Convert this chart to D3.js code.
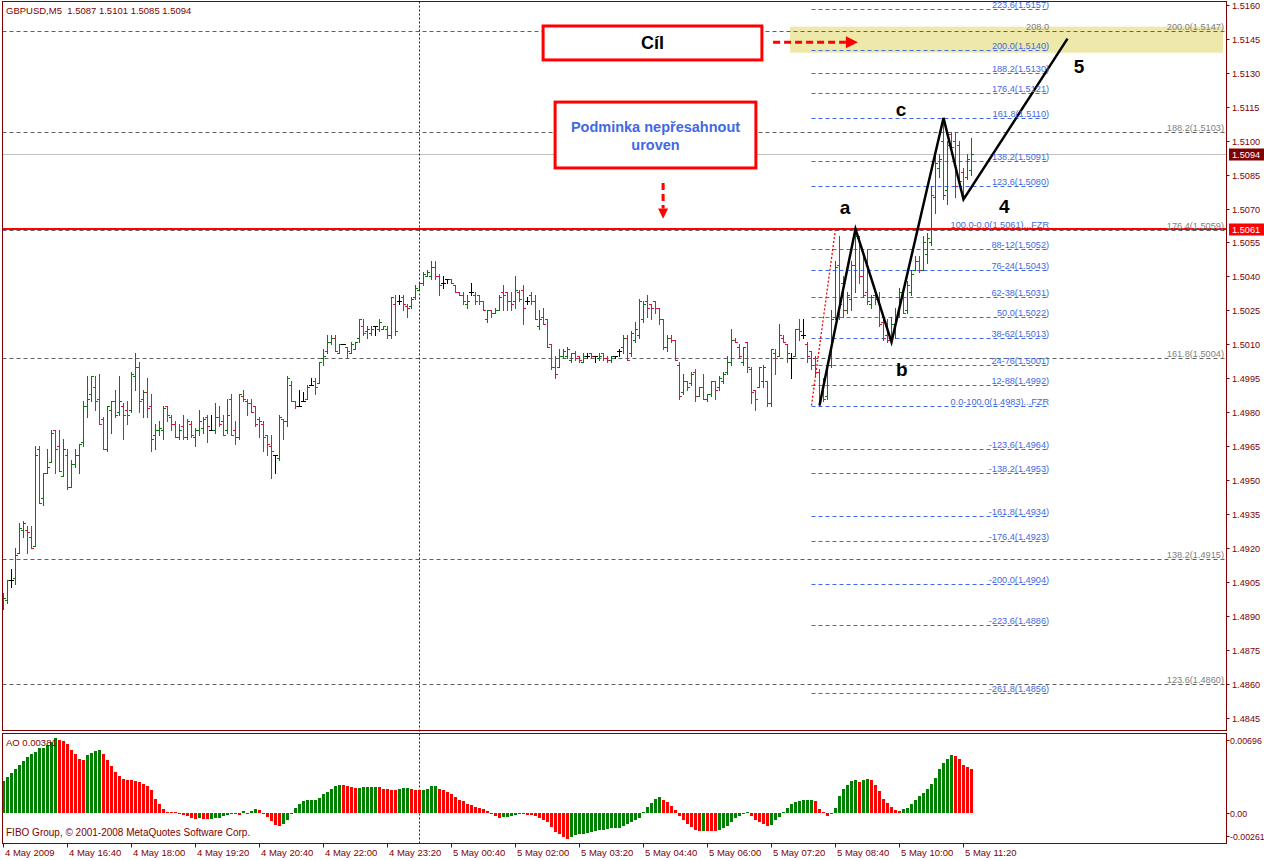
<!DOCTYPE html>
<html><head><meta charset="utf-8">
<script src="https://cdn.jsdelivr.net/npm/d3@7"></script>
<style>
body{margin:0;background:#fff}
svg{display:block}
text{font-family:"Liberation Sans",Arial,sans-serif}
</style>
</head><body>
<svg id="c" width="1264" height="860"></svg>
<script>
// ---------- DATA ----------
const opens=[
1.4894,1.4897,1.4906,1.4907,1.4918,1.4928,1.4928,1.4925,1.4921,1.4964,
1.4942,1.4953,1.4958,1.4972,1.4965,1.4952,1.4961,1.4947,1.4957,1.4961,
1.4967,1.4983,1.4988,1.4991,1.4986,1.4977,1.4964,1.4981,1.4985,1.4980,
1.4983,1.4981,1.4981,1.4996,1.5000,1.4986,1.4989,1.4983,1.4970,1.4972,
1.4972,1.4983,1.4978,1.4975,1.4969,1.4974,1.4969,1.4975,1.4969,1.4972,
1.4973,1.4978,1.4972,1.4972,1.4978,1.4976,1.4972,1.4986,1.4972,1.4969,
1.4987,1.4985,1.4984,1.4983,1.4977,1.4975,1.4970,1.4965,1.4961,1.4960,
1.4977,1.4976,1.4992,1.4985,1.4983,1.4985,1.4986,1.4992,1.4994,1.4993,
1.5004,1.5007,1.5011,1.5013,1.5006,1.5010,1.5009,1.5006,1.5008,1.5013,
1.5018,1.5016,1.5015,1.5018,1.5017,1.5017,1.5017,1.5014,1.5028,1.5029,
1.5031,1.5027,1.5027,1.5031,1.5034,1.5037,1.5040,1.5040,1.5044,1.5040,
1.5037,1.5039,1.5039,1.5036,1.5033,1.5032,1.5028,1.5033,1.5032,1.5032,
1.5029,1.5021,1.5025,1.5024,1.5025,1.5033,1.5033,1.5029,1.5029,1.5033,
1.5034,1.5029,1.5032,1.5029,1.5018,1.5022,1.5021,1.5010,1.5000,1.5000,
1.5005,1.5005,1.5003,1.5006,1.5005,1.5002,1.5005,1.5006,1.5005,1.5004,
1.5006,1.5004,1.5003,1.5005,1.5007,1.5009,1.5013,1.5006,1.5012,1.5014,
1.5021,1.5029,1.5028,1.5029,1.5026,1.5021,1.5009,1.5013,1.5012,1.5001,
1.4989,1.4994,1.4993,1.4998,1.4987,1.4991,1.4986,1.4988,1.4994,1.4991,
1.4994,1.4998,1.5002,1.5012,1.5009,1.5002,1.5011,1.4999,1.4990,1.4991,
1.4994,1.4994,1.4984,1.5006,1.5005,1.5013,1.5010,1.5004,1.5005,1.5017,
1.5014,1.5010,1.5007,1.5004,1.4998,1.4988,1.4987,1.5001,1.5022,1.5045,
1.5037,1.5025,1.5030,1.5045,1.5057,1.5040,1.5033,1.5028,1.5032,1.5031,
1.5020,1.5014,1.5012,1.5019,1.5022,1.5032,1.5025,1.5033,1.5043,1.5047,
1.5043,1.5050,1.5055,1.5075,1.5088,1.5100,1.5078,1.5103,1.5100,1.5098,
1.5086,1.5084,1.5087];
const highs=[
1.4900,1.4906,1.4911,1.4920,1.4931,1.4932,1.4930,1.4930,1.4965,1.4965,
1.4953,1.4964,1.4972,1.4972,1.4972,1.4968,1.4964,1.4959,1.4964,1.4966,
1.4985,1.4996,1.4996,1.4996,1.4997,1.4978,1.4983,1.4985,1.4990,1.4996,
1.4984,1.4985,1.4998,1.5006,1.5002,1.4990,1.4995,1.4988,1.4975,1.4976,
1.4983,1.4983,1.4979,1.4976,1.4975,1.4979,1.4977,1.4976,1.4973,1.4981,
1.4978,1.4979,1.4979,1.4984,1.4983,1.4979,1.4986,1.4988,1.4976,1.4988,
1.4990,1.4986,1.4986,1.4983,1.4978,1.4976,1.4970,1.4970,1.4961,1.4979,
1.4977,1.4996,1.4994,1.4985,1.4990,1.4989,1.4992,1.4995,1.4995,1.5002,
1.5008,1.5014,1.5014,1.5014,1.5010,1.5010,1.5009,1.5011,1.5011,1.5021,
1.5021,1.5018,1.5018,1.5018,1.5021,1.5018,1.5018,1.5031,1.5032,1.5032,
1.5032,1.5028,1.5031,1.5036,1.5037,1.5042,1.5043,1.5047,1.5047,1.5041,
1.5040,1.5039,1.5039,1.5036,1.5033,1.5033,1.5032,1.5037,1.5033,1.5032,
1.5029,1.5025,1.5025,1.5026,1.5032,1.5036,1.5033,1.5033,1.5040,1.5034,
1.5036,1.5031,1.5033,1.5032,1.5025,1.5026,1.5021,1.5010,1.5005,1.5008,
1.5008,1.5009,1.5006,1.5007,1.5005,1.5006,1.5006,1.5006,1.5005,1.5006,
1.5006,1.5005,1.5005,1.5005,1.5008,1.5014,1.5014,1.5016,1.5020,1.5030,
1.5029,1.5032,1.5028,1.5029,1.5026,1.5021,1.5014,1.5014,1.5012,1.5002,
1.4997,1.4994,1.4998,1.4999,1.4991,1.4997,1.4988,1.4994,1.4994,1.4996,
1.4998,1.5005,1.5017,1.5013,1.5010,1.5009,1.5011,1.5000,1.4990,1.5000,
1.5001,1.4994,1.5008,1.5008,1.5019,1.5014,1.5010,1.5006,1.5017,1.5021,
1.5021,1.5011,1.5007,1.5005,1.4999,1.4995,1.5002,1.5025,1.5047,1.5058,
1.5040,1.5033,1.5047,1.5060,1.5058,1.5050,1.5052,1.5032,1.5034,1.5033,
1.5022,1.5021,1.5022,1.5026,1.5035,1.5033,1.5038,1.5043,1.5049,1.5049,
1.5058,1.5059,1.5080,1.5096,1.5094,1.5110,1.5100,1.5104,1.5104,1.5100,
1.5088,1.5094,1.5101];
const lows=[
1.4893,1.4896,1.4903,1.4904,1.4918,1.4925,1.4918,1.4920,1.4921,1.4940,
1.4939,1.4953,1.4958,1.4953,1.4954,1.4952,1.4946,1.4947,1.4956,1.4953,
1.4965,1.4978,1.4985,1.4981,1.4975,1.4964,1.4963,1.4971,1.4978,1.4979,
1.4968,1.4975,1.4980,1.4990,1.4980,1.4978,1.4978,1.4963,1.4964,1.4970,
1.4968,1.4976,1.4972,1.4969,1.4968,1.4968,1.4968,1.4969,1.4965,1.4970,
1.4971,1.4967,1.4972,1.4971,1.4974,1.4970,1.4971,1.4970,1.4966,1.4968,
1.4985,1.4979,1.4980,1.4974,1.4969,1.4963,1.4961,1.4951,1.4953,1.4959,
1.4968,1.4974,1.4985,1.4982,1.4983,1.4985,1.4986,1.4992,1.4988,1.4993,
1.5001,1.5006,1.5010,1.5007,1.5006,1.5010,1.5004,1.5006,1.5008,1.5011,
1.5014,1.5013,1.5014,1.5014,1.5016,1.5017,1.5013,1.5013,1.5014,1.5028,
1.5025,1.5022,1.5026,1.5030,1.5034,1.5036,1.5040,1.5039,1.5039,1.5032,
1.5035,1.5037,1.5037,1.5033,1.5032,1.5028,1.5026,1.5032,1.5028,1.5028,
1.5025,1.5020,1.5022,1.5024,1.5025,1.5025,1.5025,1.5025,1.5026,1.5029,
1.5019,1.5028,1.5028,1.5021,1.5017,1.5019,1.5009,1.4999,1.4995,1.5000,
1.5004,1.5004,1.5002,1.5003,1.5002,1.5002,1.5004,1.5004,1.5002,1.5003,
1.5003,1.5002,1.5002,1.5004,1.5005,1.5006,1.5003,1.5005,1.5011,1.5013,
1.5020,1.5022,1.5021,1.5024,1.5019,1.5008,1.5007,1.5011,1.5003,1.4986,
1.4988,1.4990,1.4992,1.4985,1.4987,1.4986,1.4985,1.4987,1.4986,1.4990,
1.4993,1.4997,1.5001,1.5011,1.5004,1.5001,1.4998,1.4984,1.4981,1.4991,
1.4991,1.4983,1.4983,1.4997,1.5005,1.5011,1.5002,1.4995,1.5005,1.5012,
1.5013,1.5002,1.4999,1.4996,1.4983,1.4985,1.4986,1.5000,1.5021,1.5021,
1.5022,1.5024,1.5025,1.5033,1.5037,1.5031,1.5028,1.5026,1.5028,1.5018,
1.5012,1.5011,1.5011,1.5013,1.5022,1.5024,1.5024,1.5032,1.5043,1.5042,
1.5043,1.5046,1.5054,1.5068,1.5084,1.5074,1.5072,1.5096,1.5075,1.5080,
1.5074,1.5083,1.5085];
const closes=[
1.4898,1.4906,1.4906,1.4917,1.4929,1.4931,1.4927,1.4920,1.4961,1.4940,
1.4953,1.4956,1.4971,1.4964,1.4954,1.4964,1.4947,1.4957,1.4961,1.4966,
1.4983,1.4986,1.4996,1.4985,1.4975,1.4964,1.4983,1.4985,1.4979,1.4985,
1.4979,1.4979,1.4997,1.5000,1.4985,1.4989,1.4982,1.4968,1.4972,1.4973,
1.4982,1.4979,1.4975,1.4969,1.4972,1.4969,1.4976,1.4970,1.4972,1.4976,
1.4977,1.4974,1.4972,1.4978,1.4975,1.4970,1.4979,1.4970,1.4969,1.4988,
1.4986,1.4984,1.4980,1.4975,1.4976,1.4969,1.4966,1.4963,1.4961,1.4978,
1.4976,1.4995,1.4985,1.4983,1.4983,1.4985,1.4991,1.4992,1.4991,1.5002,
1.5005,1.5011,1.5013,1.5007,1.5010,1.5010,1.5007,1.5010,1.5011,1.5021,
1.5015,1.5017,1.5017,1.5018,1.5020,1.5018,1.5014,1.5031,1.5016,1.5029,
1.5028,1.5026,1.5030,1.5035,1.5037,1.5041,1.5042,1.5044,1.5040,1.5036,
1.5037,1.5039,1.5037,1.5033,1.5032,1.5029,1.5029,1.5033,1.5029,1.5029,
1.5025,1.5025,1.5024,1.5025,1.5031,1.5032,1.5029,1.5028,1.5034,1.5030,
1.5026,1.5029,1.5029,1.5021,1.5021,1.5019,1.5009,1.5000,1.4997,1.5005,
1.5007,1.5008,1.5006,1.5004,1.5003,1.5005,1.5005,1.5005,1.5005,1.5005,
1.5004,1.5003,1.5005,1.5005,1.5007,1.5013,1.5003,1.5015,1.5017,1.5029,
1.5028,1.5026,1.5026,1.5026,1.5021,1.5009,1.5013,1.5012,1.5003,1.4987,
1.4994,1.4991,1.4997,1.4987,1.4991,1.4986,1.4988,1.4994,1.4990,1.4995,
1.4997,1.5002,1.5012,1.5011,1.5005,1.5009,1.5000,1.4989,1.4986,1.5000,
1.5000,1.4984,1.5008,1.5004,1.5014,1.5011,1.5006,1.5004,1.5017,1.5016,
1.5014,1.5005,1.5001,1.4998,1.4987,1.4986,1.5001,1.5021,1.5044,1.5028,
1.5025,1.5032,1.5045,1.5058,1.5040,1.5032,1.5029,1.5031,1.5030,1.5019,
1.5013,1.5012,1.5019,1.5022,1.5033,1.5024,1.5036,1.5041,1.5047,1.5043,
1.5055,1.5057,1.5076,1.5090,1.5092,1.5076,1.5098,1.5097,1.5080,1.5082,
1.5076,1.5092,1.5094];
// Awesome Oscillator, in units of 0.0001
const aoValues=[
27.6,31.3,34.8,38.0,41.8,45.5,48.7,51.0,53.4,56.3,
56.6,59.2,61.5,65.0,63.2,62.9,59.7,54.5,51.0,46.7,
46.4,50.5,52.2,53.9,55.1,51.6,45.8,40.6,35.4,32.5,
29.9,29.0,28.4,28.1,26.7,25.5,23.8,19.7,12.5,7.5,
3.5,1.2,0.9,0.6,-1.2,-2.0,-2.9,-4.1,-5.2,-4.6,
-5.2,-5.5,-5.4,-4.6,-4.4,-2.9,-1.7,-0.9,-1.2,-1.7,
1.5,0.3,1.5,3.2,3.0,-0.6,-3.5,-7.0,-10.7,-10.9,
-9.3,-6.4,-0.6,4.6,7.5,10.2,11.0,11.2,11.6,13.3,
16.2,18.6,21.2,23.2,24.7,24.4,23.8,22.6,21.5,22.0,
22.3,22.5,22.6,22.9,22.3,21.2,20.6,20.4,20.3,20.9,
21.5,21.8,20.6,20.3,20.0,20.3,21.2,23.2,23.5,21.2,
19.7,18.0,16.2,13.9,11.6,10.4,8.1,7.0,5.2,4.4,
3.5,1.7,-1.2,-2.3,-4.1,-3.8,-3.5,-2.3,-1.5,-0.6,
-1.2,-1.7,-2.0,-2.6,-4.1,-5.8,-7.5,-12.2,-16.5,-18.6,
-20.9,-22.3,-20.9,-19.1,-18.6,-18.3,-17.4,-16.5,-16.0,-15.1,
-14.5,-13.9,-13.3,-13.2,-12.8,-11.0,-9.3,-7.5,-5.8,-4.1,
1.2,5.2,8.7,12.2,13.9,11.6,9.3,6.4,2.9,-2.3,
-5.8,-9.3,-12.2,-14.5,-15.7,-15.4,-15.7,-15.8,-16.0,-14.5,
-13.3,-11.3,-8.1,-4.1,-2.3,0.3,0.6,-2.3,-6.4,-8.1,
-9.3,-11.0,-10.4,-6.4,-3.5,0.6,4.6,7.5,9.3,10.4,
10.9,11.0,11.2,10.4,3.5,0.6,-2.3,-0.6,4.6,14.5,
20.6,24.4,27.6,28.4,26.7,28.5,29.9,28.4,24.1,18.9,
12.5,8.7,5.2,2.3,1.7,3.2,4.1,7.5,11.6,14.5,
17.4,20.9,25.5,30.2,38.3,43.5,47.3,50.2,49.6,47.0,
41.8,40.0,38.1];

const priceTicks=[1.5160,1.5145,1.5130,1.5115,1.5100,1.5085,1.5070,1.5055,1.5040,1.5025,1.5010,
  1.4995,1.4980,1.4965,1.4950,1.4935,1.4920,1.4905,1.4890,1.4875,1.4860,1.4845];
const timeTickIdx=[0,16,32,48,64,80,96,112,128,144,160,176,192,208,224,240];
const timeTickLabels=["4 May 2009","4 May 16:40","4 May 18:00","4 May 19:20","4 May 20:40","4 May 22:00",
  "4 May 23:20","5 May 00:40","5 May 02:00","5 May 03:20","5 May 04:40","5 May 06:00","5 May 07:20",
  "5 May 08:40","5 May 10:00","5 May 11:20"];
const aoTicks=[0.00696,0.00,-0.00261];
const aoTickLabels=["0.00696","0.00","-0.00261"];

// Fibo expansion (blue) levels
const fibLevels=[1.5158,1.5140,1.5130,1.5121,1.5110,1.5091,1.5080,1.5061,1.5052,1.5043,1.5031,1.5022,
  1.5013,1.5001,1.4992,1.4983,1.4964,1.4953,1.4934,1.4923,1.4904,1.4886,1.4856];
const fibLabels=["223.6(1.5157)","200.0(1.5140)","188.2(1.5130)","176.4(1.5121)","161.8(1.5110)",
  "138.2(1.5091)","123.6(1.5080)","100.0-0.0(1.5061)...FZR","88-12(1.5052)","76-24(1.5043)",
  "62-38(1.5031)","50.0(1.5022)","38-62(1.5013)","24-76(1.5001)","12-88(1.4992)",
  "0.0-100.0(1.4983)...FZR","-123.6(1.4964)","-138.2(1.4953)","-161.8(1.4934)","-176.4(1.4923)",
  "-200.0(1.4904)","-223.6(1.4886)","-261.8(1.4856)"];
const fibSpan=[202,261.4];
// Second fibo (grey, full width)
const greyLevels=[1.51482,1.51038,1.50603,1.5004,1.4915,1.4860];
const greyLabels=["200.0(1.5147)","188.2(1.5103)","176.4(1.5059)","161.8(1.5004)","138.2(1.4915)","123.6(1.4860)"];

// Wave zig-zag (bar index, price)
const waveIdx=[204,213,222,235,240,266];
const wavePrice=[1.4983,1.5061,1.5011,1.5110,1.5074,1.5145];
const waveNames=["a","b","c","4","5"];
const waveLabelIdx=[210.4,224.6,224.4,250.2,268.9];
const waveLabelPrice=[1.50677,1.49960,1.51110,1.50680,1.51300];

const bidPrice=1.5094, levelPrice=1.5061;
const targetZone=[196.6,304.9,1.51503,1.51388];
const redTrend=[[202,1.4983],[208,1.5061]];
const daySeparatorIdx=104;

// ---------- SCALES ----------
const svg=d3.select("#c");
const x=d3.scaleLinear().domain([0,1]).range([3.5,7.5]);
const y=d3.scaleLinear().domain([1.4845,1.5160]).range([718,4.7]);
const yA=d3.scaleLinear().domain([-0.00261,0.00696]).range([843,733]);
const L=2.5,R=1226.5,T=1.5,B=730.5,AT=733.5,AB=843.5;
const MAROON="#800000",BLUE="#4169e1",GREY="#808080";
const FS=9.5;

const clip=svg.append("defs").append("clipPath").attr("id","mc");
clip.append("rect").attr("x",L).attr("y",T).attr("width",R-L).attr("height",B-T);
const main=svg.append("g").attr("clip-path","url(#mc)");

// target zone
main.append("rect").attr("x",x(targetZone[0])).attr("width",x(targetZone[1])-x(targetZone[0]))
  .attr("y",y(targetZone[2])).attr("height",y(targetZone[3])-y(targetZone[2])).attr("fill","#eee8aa");

// grey full-width fibo lines
greyLevels.forEach((p,i)=>{
  const yy=Math.round(y(p))+0.5;
  main.append("line").attr("x1",L).attr("x2",R).attr("y1",yy).attr("y2",yy)
    .attr("stroke","#606060").attr("stroke-dasharray","4,3");
  svg.append("text").attr("x",1224).attr("y",yy-2).attr("text-anchor","end")
    .attr("font-size",9.2).attr("fill",GREY).text(greyLabels[i]);
});
svg.append("text").attr("x",x(fibSpan[1])).attr("y",Math.round(y(greyLevels[0]))-1.5).attr("text-anchor","end")
  .attr("font-size",9.2).attr("fill",GREY).text("208.0");

// blue fibo lines
fibLevels.forEach((p,i)=>{
  const yy=Math.round(y(p))+0.5;
  main.append("line").attr("x1",x(fibSpan[0])).attr("x2",x(fibSpan[1])).attr("y1",yy).attr("y2",yy)
    .attr("stroke",BLUE).attr("stroke-dasharray","4,3");
  svg.append("text").attr("x",x(fibSpan[1])).attr("y",yy-2).attr("text-anchor","end")
    .attr("font-size",9.2).attr("fill",BLUE).text(fibLabels[i]);
});

// bid line
main.append("line").attr("x1",L).attr("x2",R).attr("y1",Math.round(y(bidPrice))+0.5).attr("y2",Math.round(y(bidPrice))+0.5)
  .attr("stroke","#c0c0c0");

// day separator
svg.append("line").attr("x1",Math.floor(x(daySeparatorIdx))+0.5).attr("x2",Math.floor(x(daySeparatorIdx))+0.5)
  .attr("y1",T).attr("y2",AB).attr("stroke",MAROON).attr("stroke-dasharray","2,2");

// OHLC bars
const bars=main.append("g").attr("shape-rendering","crispEdges");
opens.forEach((o,i)=>{
  const c=closes[i];
  const col=c>o?"#008000":(c<o?"#dc143c":"#000000");
  const bx=Math.floor(x(i));
  const yH=Math.round(y(highs[i])), yL=Math.round(y(lows[i]));
  bars.append("rect").attr("x",bx).attr("y",yH).attr("width",1).attr("height",Math.max(1,yL-yH+1)).attr("fill",col);
  bars.append("rect").attr("x",bx-2).attr("y",Math.round(y(o))).attr("width",2).attr("height",1).attr("fill",col);
  bars.append("rect").attr("x",bx+1).attr("y",Math.round(y(c))).attr("width",2).attr("height",1).attr("fill",col);
});

// level line
main.append("line").attr("x1",L).attr("x2",R).attr("y1",y(levelPrice)).attr("y2",y(levelPrice))
  .attr("stroke","#ff0000").attr("stroke-width",2);

// red dotted trend
main.append("line").attr("x1",x(redTrend[0][0])).attr("y1",y(redTrend[0][1]))
  .attr("x2",x(redTrend[1][0])).attr("y2",y(redTrend[1][1]))
  .attr("stroke","#ff0000").attr("stroke-width",1.3).attr("stroke-dasharray","2,2");

// wave zig-zag
const wl=d3.line().x(d=>x(d[0])).y(d=>y(d[1]));
main.append("path").attr("d",wl(waveIdx.map((v,i)=>[v,wavePrice[i]])))
  .attr("fill","none").attr("stroke","#000").attr("stroke-width",2.5).attr("stroke-linejoin","miter");
waveNames.forEach((n,i)=>{
  svg.append("text").attr("x",x(waveLabelIdx[i])).attr("y",y(waveLabelPrice[i])).attr("text-anchor","middle")
    .attr("font-size",19).attr("font-weight","bold").attr("fill","#000").text(n);
});

// annotation boxes
function box(i0,i1,p0,p1){
  svg.append("rect").attr("x",x(i0)).attr("y",y(p0)).attr("width",x(i1)-x(i0)).attr("height",y(p1)-y(p0))
    .attr("fill","#fff").attr("stroke","#ff0000").attr("stroke-width",3);
  return [(x(i0)+x(i1))/2,(y(p0)+y(p1))/2];
}
const c1=box(134.9,189.6,1.51506,1.51356);
svg.append("text").attr("x",c1[0]).attr("y",c1[1]+6.5).attr("text-anchor","middle")
  .attr("font-size",18).attr("font-weight","bold").attr("fill","#000").text("Cíl");
const c2=box(137.9,188.1,1.51170,1.50879);
svg.append("text").attr("x",c2[0]).attr("y",c2[1]-3.5).attr("text-anchor","middle")
  .attr("font-size",14.5).attr("font-weight","bold").attr("fill",BLUE).text("Podminka nepřesahnout");
svg.append("text").attr("x",c2[0]).attr("y",c2[1]+14.5).attr("text-anchor","middle")
  .attr("font-size",14.5).attr("font-weight","bold").attr("fill",BLUE).text("uroven");

// arrows
const ay=y(1.51434);
svg.append("line").attr("x1",x(192.4)).attr("x2",x(210.6)).attr("y1",ay).attr("y2",ay)
  .attr("stroke","#ff0000").attr("stroke-width",3).attr("stroke-dasharray","7,4");
svg.append("path").attr("d",`M${x(210.6)},${ay-6}L${x(213.6)},${ay}L${x(210.6)},${ay+6}Z`).attr("fill","#ff0000");
const ax=x(164.9);
svg.append("line").attr("x1",ax).attr("x2",ax).attr("y1",y(1.50813)).attr("y2",y(1.50700))
  .attr("stroke","#ff0000").attr("stroke-width",3).attr("stroke-dasharray","7,4");
svg.append("path").attr("d",`M${ax-5},${y(1.50700)}L${ax},${y(1.50655)}L${ax+5},${y(1.50700)}Z`).attr("fill","#ff0000");

// AO
const ao=svg.append("g").attr("shape-rendering","crispEdges");
aoValues.forEach((v,i)=>{
  const val=v*1e-4;
  const up=i===0||v>=aoValues[i-1];
  const bx=Math.floor(x(i));
  const y0=yA(0), y1=yA(val);
  ao.append("rect").attr("x",bx-1).attr("width",3).attr("y",Math.round(Math.min(y0,y1)))
    .attr("height",Math.max(1,Math.round(Math.abs(y1-y0)))).attr("fill",up?"#008000":"#ff0000");
});

// frames
svg.append("rect").attr("x",L).attr("y",T).attr("width",R-L).attr("height",B-T).attr("fill","none").attr("stroke",MAROON);
svg.append("rect").attr("x",L).attr("y",AT).attr("width",R-L).attr("height",AB-AT).attr("fill","none").attr("stroke",MAROON);

// price axis
priceTicks.forEach(p=>{
  const yy=Math.round(y(p))+0.5;
  svg.append("line").attr("x1",R).attr("x2",R+3).attr("y1",yy).attr("y2",yy).attr("stroke",MAROON);
  svg.append("text").attr("x",1232).attr("y",yy+3.5).attr("font-size",9.2).attr("fill",MAROON).text(p.toFixed(4));
});
function priceTag(p,bg){
  const yy=Math.round(y(p))+0.5;
  svg.append("rect").attr("x",1229).attr("y",yy-6).attr("width",35).attr("height",12).attr("fill",bg);
  svg.append("text").attr("x",1232).attr("y",yy+3.5).attr("font-size",9.2).attr("fill","#fff").text(p.toFixed(4));
}
priceTag(bidPrice,MAROON);
priceTag(levelPrice,"#ff0000");

// AO axis
aoTicks.forEach((v,i)=>{
  const yy=Math.min(Math.max(Math.round(yA(v)),740),836)+0.5;
  svg.append("line").attr("x1",R).attr("x2",R+3).attr("y1",yy).attr("y2",yy).attr("stroke",MAROON);
  svg.append("text").attr("x",1230).attr("y",yy+3.5).attr("font-size",8.8).attr("fill",MAROON).text(aoTickLabels[i]);
});

// time axis
timeTickIdx.forEach((k,i)=>{
  const xx=Math.floor(x(k))+0.5;
  svg.append("line").attr("x1",xx).attr("x2",xx).attr("y1",AB).attr("y2",AB+4).attr("stroke",MAROON);
  svg.append("text").attr("x",xx+1.5).attr("y",856).attr("font-size",FS).attr("fill",MAROON).text(timeTickLabels[i]);
});

// header texts
svg.append("text").attr("x",6).attr("y",14).attr("font-size",FS).attr("fill",MAROON)
  .attr("xml:space","preserve").style("white-space","pre").text("GBPUSD,M5  1.5087 1.5101 1.5085 1.5094");
svg.append("text").attr("x",6).attr("y",746).attr("font-size",FS).attr("fill",MAROON).text("AO 0.00381");
svg.append("text").attr("x",6).attr("y",836).attr("font-size",10).attr("fill",MAROON)
  .text("FIBO Group, © 2001-2008 MetaQuotes Software Corp.");
</script>
</body></html>
